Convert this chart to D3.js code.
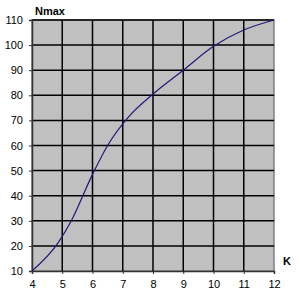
<!DOCTYPE html>
<html>
<head>
<meta charset="utf-8">
<script src="https://cdn.jsdelivr.net/npm/d3@7"></script>
<style>
  body { margin: 0; background: #fff; }
  text { font-family: "Liberation Sans", Arial, sans-serif; }
</style>
</head>
<body>
<div id="chart"></div>
<script>
// data
var kValues = [4, 4.85, 5.3, 6, 6.5, 7.2, 8, 9, 10, 11, 12];
var nmaxValues = [10, 21, 30, 48.5, 60, 71.5, 80.5, 90, 99.5, 106, 110];
var xTicks = [4, 5, 6, 7, 8, 9, 10, 11, 12];
var yTicks = [10, 20, 30, 40, 50, 60, 70, 80, 90, 100, 110];

var w = 300, h = 298;
var margin = {top: 20, right: 26, bottom: 27, left: 32};
var width = w - margin.left - margin.right;
var height = h - margin.top - margin.bottom;

var x = d3.scaleLinear().domain([4, 12]).range([0, width]);
var y = d3.scaleLinear().domain([10, 110]).range([height, 0]);

var svg = d3.select("#chart").append("svg")
  .attr("width", w)
  .attr("height", h);

var g = svg.append("g")
  .attr("transform", "translate(" + margin.left + "," + margin.top + ")");

// plot background
g.append("rect")
  .attr("width", width)
  .attr("height", height)
  .attr("fill", "#c0c0c0")
  .attr("stroke", "#808080")
  .attr("stroke-width", 1.5);

// grid
g.selectAll(".vgrid")
  .data(xTicks.slice(1, -1))
  .enter().append("line")
  .attr("class", "vgrid")
  .attr("x1", function(d) { return x(d); })
  .attr("x2", function(d) { return x(d); })
  .attr("y1", 0)
  .attr("y2", height)
  .attr("stroke", "#000")
  .attr("stroke-width", 1.5);

g.selectAll(".hgrid")
  .data(yTicks.slice(1))
  .enter().append("line")
  .attr("class", "hgrid")
  .attr("x1", 0)
  .attr("x2", width)
  .attr("y1", function(d) { return y(d); })
  .attr("y2", function(d) { return y(d); })
  .attr("stroke", "#000")
  .attr("stroke-width", 1.5);

// axes
var xAxis = g.append("g")
  .attr("transform", "translate(0," + height + ")")
  .call(d3.axisBottom(x).tickValues(xTicks).tickSize(3).tickPadding(6).tickFormat(d3.format("d")));

var yAxis = g.append("g")
  .call(d3.axisLeft(y).tickValues(yTicks).tickSize(3).tickPadding(6).tickFormat(d3.format("d")));

[xAxis, yAxis].forEach(function(a) {
  a.select(".domain").attr("stroke", "#333").attr("stroke-width", 1.5);
  a.selectAll(".tick line").attr("stroke", "#333");
  a.selectAll("text")
    .attr("fill", "#000")
    .style("font-size", "11px")
    .style("font-family", "'Liberation Sans', Arial, sans-serif");
});

// curve
var line = d3.line()
  .x(function(d, i) { return x(kValues[i]); })
  .y(function(d) { return y(d); })
  .curve(d3.curveMonotoneX);

g.append("path")
  .datum(nmaxValues)
  .attr("d", line)
  .attr("fill", "none")
  .attr("stroke", "#1e1a78")
  .attr("stroke-width", 1.2);

// axis titles
svg.append("text")
  .attr("x", 35)
  .attr("y", 15)
  .style("font-size", "11px")
  .style("font-weight", "bold")
  .text("Nmax");

svg.append("text")
  .attr("x", 283)
  .attr("y", 265)
  .style("font-size", "11px")
  .style("font-weight", "bold")
  .text("K");
</script>
</body>
</html>
